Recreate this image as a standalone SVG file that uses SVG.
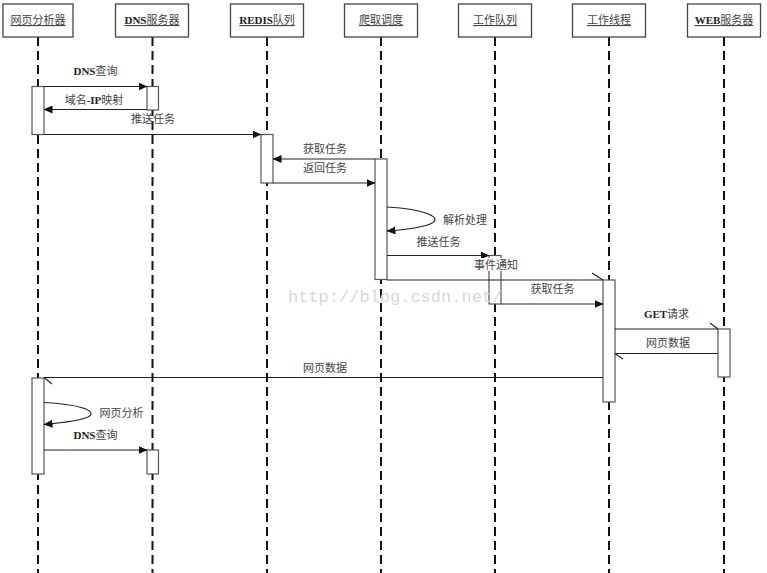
<svg xmlns="http://www.w3.org/2000/svg" width="767" height="573" viewBox="0 0 767 573">
<defs>
<style>
.hdr{fill:#fff;stroke:#444;stroke-width:1.3}
.ht{font-family:"Liberation Serif","Noto Sans CJK SC",serif;font-size:11px;fill:#444;text-anchor:middle;text-decoration:underline}
.b{font-weight:bold;fill:#222}
.life{stroke:#111;stroke-width:2;stroke-dasharray:9 5;fill:none}
.act{fill:#fff;stroke:#555;stroke-width:1.2}
.msg{stroke:#222;stroke-width:1.1;fill:none}
.lbl{font-family:"Liberation Serif","Noto Sans CJK SC",serif;font-size:11px;fill:#444;text-anchor:middle}
.wm{font-family:"Liberation Mono",monospace;font-size:17px;fill:#d8d8d8}
</style>
<marker id="ah" markerWidth="9" markerHeight="8" refX="8.5" refY="4" orient="auto" markerUnits="userSpaceOnUse">
<path d="M0,0 L9,4 L0,8 Z" fill="#111"/>
</marker>
</defs>

<g id="lifelines">
<line class="life" x1="38" y1="37" x2="38" y2="573"/>
<line class="life" x1="152.5" y1="37" x2="152.5" y2="573"/>
<line class="life" x1="267" y1="37" x2="267" y2="573"/>
<line class="life" x1="381" y1="37" x2="381" y2="573"/>
<line class="life" x1="495" y1="37" x2="495" y2="573"/>
<line class="life" x1="609" y1="37" x2="609" y2="573"/>
<line class="life" x1="724" y1="37" x2="724" y2="573"/>
</g>

<g id="n-web-analyzer">
<rect class="hdr" x="3" y="4" width="70" height="33"/>
<text class="ht" x="38" y="24">网页分析器</text>
</g>
<g id="n-dns">
<rect class="hdr" x="115.5" y="4" width="73" height="33"/>
<text class="ht" x="152" y="24"><tspan class="b">DNS</tspan>服务器</text>
</g>
<g id="n-redis">
<rect class="hdr" x="230.5" y="4" width="73" height="33"/>
<text class="ht" x="267" y="24"><tspan class="b">REDIS</tspan>队列</text>
</g>
<g id="n-scheduler">
<rect class="hdr" x="344.5" y="4" width="73" height="33"/>
<text class="ht" x="381" y="24">爬取调度</text>
</g>
<g id="n-workqueue">
<rect class="hdr" x="458.5" y="4" width="73" height="33"/>
<text class="ht" x="495" y="24">工作队列</text>
</g>
<g id="n-worker">
<rect class="hdr" x="572.5" y="4" width="73" height="33"/>
<text class="ht" x="609" y="24">工作线程</text>
</g>
<g id="n-webserver">
<rect class="hdr" x="687.5" y="4" width="73" height="33"/>
<text class="ht" x="724" y="24"><tspan class="b">WEB</tspan>服务器</text>
</g>

<g id="activations">
<rect class="act" x="32" y="86.5" width="12" height="48"/>
<rect class="act" x="147" y="86.5" width="11.5" height="23.5"/>
<rect class="act" x="261" y="134.5" width="12" height="48.5"/>
<rect class="act" x="375" y="159" width="12" height="120.5"/>
<rect class="act" x="489" y="255.5" width="12" height="48.5"/>
<rect class="act" x="603" y="280" width="12" height="122"/>
<rect class="act" x="718" y="329" width="12" height="48"/>
<rect class="act" x="32" y="378" width="12" height="96"/>
<rect class="act" x="147" y="450" width="11.5" height="24"/>
</g>

<text class="wm" x="288" y="302">http://blog.csdn.net/</text>

<g id="connectors">
<line class="msg" x1="44" y1="86.5" x2="147" y2="86.5" marker-end="url(#ah)"/>
<line class="msg" x1="147" y1="109.5" x2="44" y2="109.5" marker-end="url(#ah)"/>
<line class="msg" x1="44" y1="134.5" x2="261" y2="134.5" marker-end="url(#ah)"/>
<line class="msg" x1="375" y1="159" x2="273" y2="159" marker-end="url(#ah)"/>
<line class="msg" x1="273" y1="183" x2="375" y2="183" marker-end="url(#ah)"/>
<path class="msg" d="M387,207 C425,209 445,218 430,224 C420,228 402,230 387,231" marker-end="url(#ah)"/>
<line class="msg" x1="387" y1="255.5" x2="489" y2="255.5" marker-end="url(#ah)"/>
<line class="msg" x1="387" y1="280" x2="603" y2="280"/>
<line class="msg" x1="592" y1="273" x2="603" y2="280"/>
<line class="msg" x1="501" y1="304" x2="603" y2="304" marker-end="url(#ah)"/>
<line class="msg" x1="615" y1="329" x2="718" y2="329"/>
<line class="msg" x1="710" y1="323" x2="718" y2="329"/>
<line class="msg" x1="718" y1="353.5" x2="615" y2="353.5"/>
<line class="msg" x1="615" y1="353.5" x2="623" y2="359"/>
<line class="msg" x1="603" y1="377.5" x2="44" y2="377.5"/>
<line class="msg" x1="44" y1="377.5" x2="52" y2="384"/>
<path class="msg" d="M44,402.5 C75,404 100,410 88,417 C80,421 60,423 44,424.5" marker-end="url(#ah)"/>
<line class="msg" x1="44" y1="450" x2="147" y2="450" marker-end="url(#ah)"/>
</g>

<g id="labels">
<text class="lbl" x="95.5" y="75"><tspan class="b">DNS</tspan>查询</text>
<text class="lbl" x="94" y="104">域名<tspan class="b">-IP</tspan>映射</text>
<text class="lbl" x="153" y="123">推送任务</text>
<text class="lbl" x="325" y="153">获取任务</text>
<text class="lbl" x="325" y="172">返回任务</text>
<text class="lbl" x="465" y="224">解析处理</text>
<text class="lbl" x="438.5" y="245.5">推送任务</text>
<rect x="474" y="258" width="44" height="13" fill="#fff"/>
<text class="lbl" x="496" y="269">事件通知</text>
<text class="lbl" x="552.5" y="293">获取任务</text>
<text class="lbl" x="666.5" y="318"><tspan class="b">GET</tspan>请求</text>
<text class="lbl" x="668" y="347">网页数据</text>
<text class="lbl" x="325" y="372">网页数据</text>
<text class="lbl" x="121.5" y="417">网页分析</text>
<text class="lbl" x="95.5" y="439"><tspan class="b">DNS</tspan>查询</text>
</g>
</svg>
